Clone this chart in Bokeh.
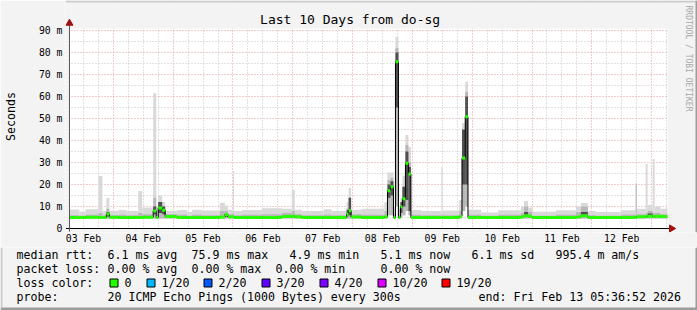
import math
from bokeh.plotting import figure
from bokeh.layouts import column
from bokeh.models import Range1d, FixedTicker, ColumnDataSource
from bokeh.core.properties import value
from bokeh.embed import file_html
from bokeh.resources import INLINE

# ---------------- data (hours since 03 Feb 00:00, values in ms) ----------------
view_start_h = 6.4
view_end_h = 246.4
y_top_ms = 90.9

seg_start_h = [6.4, 10.4, 12.8, 18.0, 19.6, 21.2, 22.4, 26.0, 29.2, 34.0,
               35.6, 40.0, 41.2, 42.0, 43.6, 44.8, 49.6, 53.6, 55.6, 59.6,
               66.8, 68.8, 70.0, 72.0, 72.4, 75.6, 83.6, 91.6, 95.6, 96.8,
               99.6, 108.4, 111.6, 117.6, 118.4, 119.4, 123.6, 132.8, 134.0, 135.2,
               136.4, 137.2, 138.4, 139.2, 140.0, 141.2, 142.4, 143.4, 147.6, 155.6,
               156.1, 162.8, 163.9, 165.2, 166.3, 171.6, 178.4, 187.6, 188.8, 190.4,
               192.0, 201.6, 209.6, 211.6, 214.4, 217.6, 227.6, 233.6, 234.0, 237.6,
               238.4, 240.4, 241.2, 243.6]

median_ms = [5.0, 5.0, 5.1, 5.0, 5.0, 6.6, 5.1, 5.0, 5.0, 5.0,
             5.1, 8.0, 5.0, 9.3, 8.3, 5.5, 5.0, 5.0, 5.0, 5.0,
             5.2, 6.4, 5.3, 5.2, 5.0, 5.0, 5.0, 5.5, 5.6, 5.3,
             5.0, 5.0, 5.0, 6.5, 8.1, 5.2, 5.0, 5.3, 17.2, 19.0,
             5.0, 75.8, 5.0, 9.9, 13.5, 29.7, 24.8, 5.0, 5.0, 5.0,
             5.0, 5.5, 32.0, 50.8, 5.0, 5.0, 5.0, 5.3, 5.8, 5.6,
             5.0, 5.0, 5.2, 5.8, 5.0, 5.0, 5.0, 5.2, 5.3, 5.4,
             5.6, 5.5, 5.6, 5.4]

smoke_lo_ms = [4.5, 4.5, 4.5, 4.5, 4.5, 4.5, 4.5, 4.5, 4.5, 4.5,
               4.5, 4.5, 4.5, 4.5, 4.5, 4.5, 4.5, 4.5, 4.5, 4.5,
               4.5, 4.5, 4.5, 4.5, 4.5, 4.5, 4.5, 4.5, 4.5, 4.5,
               4.5, 4.5, 4.5, 4.5, 4.5, 4.5, 4.5, 4.5, 6.0, 6.0,
               4.5, 10.0, 4.5, 5.0, 6.0, 8.0, 6.0, 4.5, 4.5, 4.5,
               4.5, 4.5, 8.0, 10.0, 4.5, 4.5, 4.5, 4.5, 4.5, 4.5,
               4.5, 4.5, 4.5, 4.5, 4.5, 4.5, 4.5, 4.5, 4.5, 4.5,
               4.5, 4.5, 4.5, 4.5]

smoke_hi_ms = [8.6, 7.6, 8.8, 23.9, 8.0, 13.9, 8.0, 8.4, 8.0, 17.0,
               9.5, 61.5, 10.0, 15.0, 12.0, 8.0, 8.4, 7.5, 8.5, 8.2,
               11.7, 10.5, 8.5, 26.0, 8.0, 8.4, 9.2, 9.0, 17.5, 8.5,
               8.0, 8.8, 8.0, 12.0, 18.4, 8.5, 9.0, 12.0, 25.4, 25.4,
               10.0, 87.2, 9.0, 14.0, 24.0, 42.5, 37.0, 8.4, 8.0, 28.0,
               8.2, 13.0, 48.0, 66.7, 8.5, 7.3, 8.3, 10.0, 12.5, 9.5,
               7.6, 8.3, 10.0, 11.6, 8.0, 7.5, 8.3, 20.5, 9.0, 29.3,
               10.7, 31.6, 10.0, 9.0]

smoke_mid_ms = [6.0, 5.8, 6.2, 7.0, 6.0, 9.0, 6.0, 6.2, 6.0, 7.0,
                6.5, 14.0, 6.0, 12.0, 10.0, 6.5, 6.2, 5.8, 6.2, 6.0,
                8.0, 8.0, 6.5, 7.0, 6.0, 6.2, 6.5, 7.0, 8.0, 6.5,
                6.0, 6.3, 6.0, 9.0, 14.0, 6.5, 6.2, 8.0, 22.0, 23.0,
                6.5, 82.0, 6.0, 12.0, 19.0, 38.0, 30.0, 6.2, 6.0, 6.5,
                6.0, 8.0, 44.0, 62.0, 6.2, 5.8, 6.2, 7.0, 10.0, 7.5,
                5.8, 6.2, 7.5, 10.0, 6.0, 5.8, 6.2, 20.5, 6.5, 7.0,
                8.0, 7.0, 7.0, 6.5]

dark_lo_ms = [0, 0, 0, 0, 0, 5.5, 0, 0, 0, 0,
              0, 6.5, 0, 7.0, 6.5, 0, 0, 0, 0, 0,
              0, 5.5, 0, 0, 0, 0, 0, 0, 0, 0,
              0, 0, 0, 5.5, 6.0, 0, 0, 0, 14.0, 15.0,
              0, 55.0, 0, 7.0, 10.0, 13.0, 8.0, 0, 0, 0,
              0, 0, 20.0, 20.0, 0, 0, 0, 0, 5.5, 0,
              0, 0, 0, 5.5, 0, 0, 0, 0, 0, 0,
              5.5, 0, 0, 0]

dark_hi_ms = [0, 0, 0, 0, 0, 7.5, 0, 0, 0, 0,
              0, 10.0, 0, 12.0, 10.0, 0, 0, 0, 0, 0,
              0, 7.0, 0, 0, 0, 0, 0, 0, 0, 0,
              0, 0, 0, 8.5, 14.0, 0, 0, 0, 20.0, 21.5,
              0, 80.0, 0, 12.0, 19.0, 35.0, 28.0, 0, 0, 0,
              0, 0, 45.0, 60.0, 0, 0, 0, 0, 7.5, 0,
              0, 0, 0, 7.5, 0, 0, 0, 0, 0, 0,
              6.8, 0, 0, 0]

day_labels = ["03 Feb", "04 Feb", "05 Feb", "06 Feb", "07 Feb",
              "08 Feb", "09 Feb", "10 Feb", "11 Feb", "12 Feb"]
y_ticks_ms = [0, 10, 20, 30, 40, 50, 60, 70, 80, 90]
y_tick_labels = ["0", "10 m", "20 m", "30 m", "40 m", "50 m", "60 m", "70 m", "80 m", "90 m"]

title_text = "Last 10 Days from do-sg"
unit_text = "Seconds"
watermark_text = "RRDTOOL / TOBI OETIKER"

legend_rtt = ["median rtt:", "6.1 ms avg", "75.9 ms max", "4.9 ms min", "5.1 ms now",
              "6.1 ms sd", "995.4 m am/s"]
legend_loss = ["packet loss:", "0.00 % avg", "0.00 % max", "0.00 % min", "0.00 % now"]
loss_labels = ["0", "1/20", "2/20", "3/20", "4/20", "10/20", "19/20"]
loss_colors = ["#26ff00", "#00b8ff", "#0059ff", "#5e00ff", "#7e00ff", "#dd00ff", "#ff0000"]
probe_text = "20 ICMP Echo Pings (1000 Bytes) every 300s"
end_text = "end: Fri Feb 13 05:36:52 2026"

# ---------------- styling ----------------
FONT = "DejaVu Sans Mono"
BG = "#f3f3f3"
ARROW = "#a01010"
H_PER_PX = 0.4      # hours per pixel
MS_PER_PX = 1 / 2.2  # ms per pixel

seg_end_h = seg_start_h[1:] + [view_end_h]

# frame spans canvas x 63..697, y 0..232
x0 = view_start_h - 4 * H_PER_PX
x1 = view_start_h + 630 * H_PER_PX
y1 = 228 * MS_PER_PX
y0 = -4 * MS_PER_PX

p = figure(width=697, height=247, output_backend="svg", toolbar_location=None,
           title=None, x_range=Range1d(x0, x1), y_range=Range1d(y0, y1),
           min_border_left=63, min_border_right=0, min_border_top=0,
           min_border_bottom=15)
p.frame_align = False
p.background_fill_color = "white"
p.border_fill_color = BG
p.outline_line_color = None

midnights = [24 * i for i in range(1, 11)]
six_hours = [6 * i for i in range(2, 42) if (6 * i) % 24 != 0]
p.xgrid.ticker = FixedTicker(ticks=midnights, minor_ticks=six_hours)
p.ygrid.ticker = FixedTicker(ticks=y_ticks_ms, minor_ticks=[5 + 10 * i for i in range(9)])
for g in (p.xgrid, p.ygrid):
    g.grid_line_color = "#e29a9a"
    g.grid_line_dash = "1 2"
    g.grid_line_width = 1
    g.minor_grid_line_color = "#c4c4c4"
    g.minor_grid_line_dash = "1 2"

noons = [12 + 24 * i for i in range(len(day_labels))]
p.xaxis.ticker = FixedTicker(ticks=noons)
p.xaxis.major_label_overrides = {t: s for t, s in zip(noons, day_labels)}
p.yaxis.ticker = FixedTicker(ticks=y_ticks_ms)
p.yaxis.major_label_overrides = {t: s for t, s in zip(y_ticks_ms, y_tick_labels)}
for ax in (p.xaxis, p.yaxis):
    ax.axis_line_color = None
    ax.major_tick_line_color = None
    ax.minor_tick_line_color = None
    ax.major_tick_out = 0
    ax.major_tick_in = 0
    ax.minor_tick_out = 0
    ax.minor_tick_in = 0
    ax.major_label_text_font = FONT
    ax.major_label_text_font_size = "9.8px"
    ax.major_label_text_color = "black"
p.xaxis.major_label_standoff = 0
p.yaxis.major_label_standoff = 3
p.yaxis.axis_label = unit_text
p.yaxis.axis_label_text_font = FONT
p.yaxis.axis_label_text_font_size = "11.6px"
p.yaxis.axis_label_text_font_style = "normal"
p.yaxis.axis_label_text_color = "black"
p.yaxis.axis_label_standoff = 18

src = ColumnDataSource(dict(x0=seg_start_h, x1=seg_end_h, med=median_ms,
                            lo=smoke_lo_ms, hi=smoke_hi_ms, mid=smoke_mid_ms,
                            dlo=dark_lo_ms, dhi=dark_hi_ms))
p.quad(left="x0", right="x1", bottom="lo", top="hi", source=src,
       fill_color="#d9d9d9", line_color=None)
p.quad(left="x0", right="x1", bottom="lo", top="mid", source=src,
       fill_color="#b8b8b8", line_color=None)
p.quad(left="x0", right="x1", bottom="dlo", top="dhi", source=src,
       fill_color="#505050", line_color=None)

step_x = seg_start_h + [view_end_h]
step_y = median_ms + [median_ms[-1]]
p.step(x=step_x, y=step_y, mode="after", line_color="black", line_width=1)
p.segment(x0="x0", x1="x1", y0="med", y1="med", source=src,
          line_color="#26ff00", line_width=3)

# canvas-coloured margins inside the frame (outside the plot area)
p.quad(left=[x0, x0, view_end_h, x0], right=[x1, view_start_h, x1, x1],
       bottom=[y_top_ms, y0, y0, y0], top=[y1, y1, y1, 0],
       fill_color=BG, line_color=None)
# 3-d frame edges (top light, right dark)
p.quad(left=[x0, x1 - 2 * H_PER_PX], right=[x1, x1], bottom=[y1 - 2 * MS_PER_PX, y0],
       top=[y1, y1], fill_color=["#cbcbcb", "#9c9c9c"], line_color=None)

# axis lines with arrow heads
p.segment(x0=[x0 + 0.2, view_start_h], y0=[0, -1.4],
          x1=[view_start_h + 602 * H_PER_PX, view_start_h], y1=[0, y_top_ms + 1.6],
          line_color=["black", "#555555"], line_width=1)
p.scatter(x=[view_start_h + 604 * H_PER_PX, view_start_h], y=[0, y_top_ms + 2.4],
          marker="triangle", size=7, angle=[-math.pi / 2, 0],
          fill_color=ARROW, line_color=ARROW)

# title and watermark
p.text(x=[(view_start_h + (348.5 - 67) * H_PER_PX)], y=[(228 - 19) * MS_PER_PX],
       text=[title_text], text_font=value(FONT), text_font_size=value("13px"),
       text_align="center", text_baseline="middle", text_color="black")
p.text(x=[(view_start_h + (688 - 67) * H_PER_PX)], y=[(228 - 5) * MS_PER_PX],
       text=[watermark_text], text_font=value(FONT), text_font_size=value("8px"),
       text_align="left", text_baseline="middle", text_color="#a8a8a8",
       angle=-math.pi / 2)

# ---------------- legend panel (data units = pixels) ----------------
q = figure(width=697, height=63, output_backend="svg", toolbar_location=None,
           title=None, x_range=Range1d(0, 697), y_range=Range1d(310, 247),
           min_border=0, x_axis_type=None, y_axis_type=None)
q.frame_align = False
q.background_fill_color = BG
q.border_fill_color = BG
q.outline_line_color = None
q.xgrid.visible = False
q.ygrid.visible = False

row_y = [254, 268, 282, 296]
tx, ty, tt = [], [], []
for t, x in zip(legend_rtt, [16, 107, 191, 289, 380, 471, 555]):
    tx.append(x); ty.append(row_y[0]); tt.append(t)
for t, x in zip(legend_loss, [16, 107, 191, 275, 380]):
    tx.append(x); ty.append(row_y[1]); tt.append(t)
tx.append(16); ty.append(row_y[2]); tt.append("loss color:")
box_x = [109, 146, 203, 261, 319, 377, 441]
for t, x in zip(loss_labels, box_x):
    tx.append(x + 15); ty.append(row_y[2]); tt.append(t)
for t, x in zip(["probe:", probe_text, end_text], [16, 107, 478]):
    tx.append(x); ty.append(row_y[3]); tt.append(t)
q.text(x=tx, y=ty, text=tt, text_font=value(FONT), text_font_size=value("11.6px"),
       text_align="left", text_baseline="middle", text_color="black")
q.quad(left=[x + 0.5 for x in box_x], right=[x + 8.5 for x in box_x],
       top=[278.5] * len(box_x), bottom=[286.5] * len(box_x),
       fill_color=loss_colors, line_color="black", line_width=1)
# 3-d frame edges
q.quad(left=[0, 695, 0], right=[697, 697, 2], top=[307, 247, 247], bottom=[310, 310, 307],
       fill_color=["#9c9c9c", "#9c9c9c", "#cbcbcb"], line_color=None)

layout = column(p, q, spacing=0)
open("out.html", "w").write(file_html(layout, INLINE))
